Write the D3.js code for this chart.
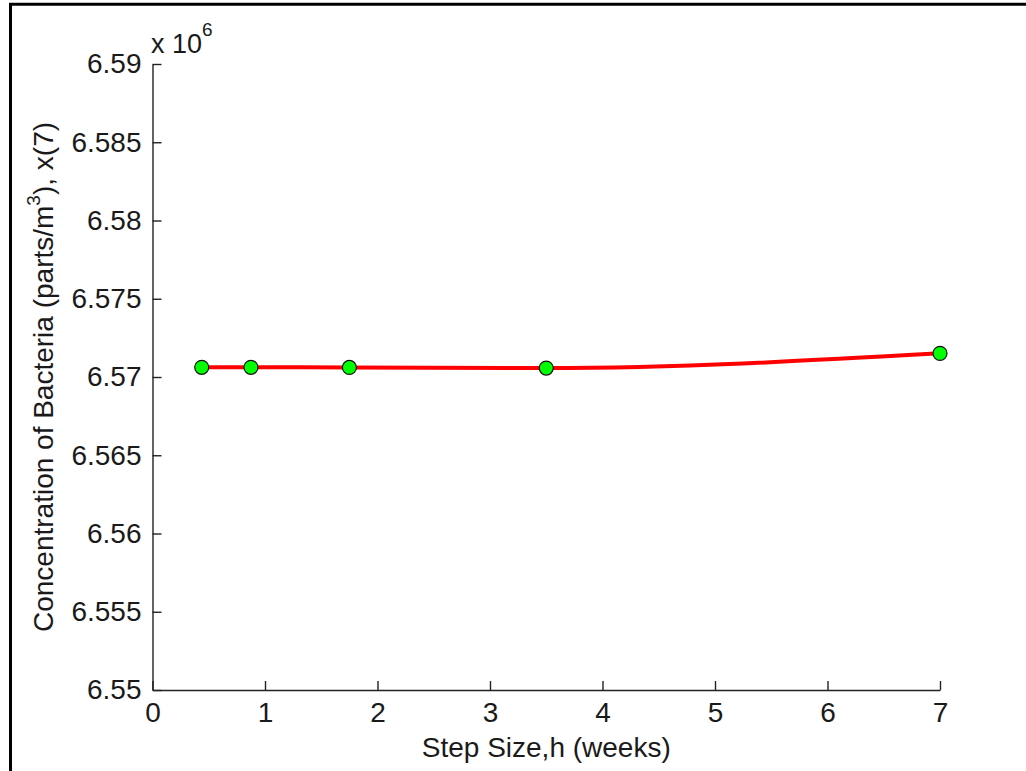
<!DOCTYPE html>
<html>
<head>
<meta charset="utf-8">
<script src="https://cdn.jsdelivr.net/npm/d3@7"></script>
<style>
  html, body { margin: 0; padding: 0; background: #fff; }
  svg { display: block; }
  text { font-family: "Liberation Sans", Arial, Helvetica, sans-serif; fill: #1a1a1a; }
</style>
</head>
<body>
<script>
// Data (y in units of 1e6)
const stepSizes = [0.4375, 0.875, 1.75, 3.5, 7];
const concentration = [6.57062, 6.57062, 6.57061, 6.57057, 6.57151];
const xTicks = [0, 1, 2, 3, 4, 5, 6, 7];
const xTickLabels = ["0", "1", "2", "3", "4", "5", "6", "7"];
const yTicks = [6.55, 6.555, 6.56, 6.565, 6.57, 6.575, 6.58, 6.585, 6.59];
const yTickLabels = ["6.55", "6.555", "6.56", "6.565", "6.57", "6.575", "6.58", "6.585", "6.59"];
const xLabel = "Step Size,h (weeks)";

(function () {
const W = 1026, H = 771;
const svg = d3.select("body").append("svg").attr("width", W).attr("height", H);

// outer frame (top and left edges visible)
svg.append("line").attr("x1", 9).attr("x2", W).attr("y1", 4.3).attr("y2", 4.3)
  .attr("stroke", "#000").attr("stroke-width", 3);
svg.append("line").attr("x1", 10.5).attr("x2", 10.5).attr("y1", 3).attr("y2", H)
  .attr("stroke", "#000").attr("stroke-width", 3);

const mL = 152.5, mR = 940, mT = 64, mB = 690;
const x = d3.scaleLinear().domain([0, 7]).range([mL, mR]);
const y = d3.scaleLinear().domain([6.55, 6.59]).range([mB, mT]);

const xAxis = d3.axisBottom(x).tickValues(xTicks)
  .tickFormat((d, i) => xTickLabels[i]).tickSizeInner(-9).tickSizeOuter(0).tickPadding(12);
const yAxis = d3.axisLeft(y).tickValues(yTicks)
  .tickFormat((d, i) => yTickLabels[i]).tickSizeInner(-9).tickSizeOuter(0).tickPadding(11);

const gx = svg.append("g").attr("transform", `translate(0,${mB})`).call(xAxis);
const gy = svg.append("g").attr("transform", `translate(${mL},0)`).call(yAxis);
[gx, gy].forEach(g => {
  g.selectAll("path.domain").attr("stroke", "#222").attr("stroke-width", 1.4);
  g.selectAll(".tick line").attr("stroke", "#222").attr("stroke-width", 1.4);
  g.selectAll(".tick text").style("font-size", "28px").attr("fill", "#1a1a1a")
    .style("font-family", "'Liberation Sans', Arial, sans-serif");
});

// line
const line = d3.line().x(d => x(d[0])).y(d => y(d[1])).curve(d3.curveMonotoneX);
const pts = stepSizes.map((s, i) => [s, concentration[i]]);
svg.append("path").datum(pts).attr("d", line)
  .attr("fill", "none").attr("stroke", "#ff0000").attr("stroke-width", 4);

svg.selectAll("circle.pt").data(pts).enter().append("circle")
  .attr("class", "pt")
  .attr("cx", d => x(d[0])).attr("cy", d => y(d[1])).attr("r", 7)
  .attr("fill", "#00ff00").attr("stroke", "#111").attr("stroke-width", 1.2);

// multiplier
const mult = svg.append("text").attr("x", 151).attr("y", 53).style("font-size", "27px");
mult.append("tspan").text("x 10");
mult.append("tspan").attr("dy", -17).style("font-size", "19px").text("6");

// x label
svg.append("text").attr("x", (mL + mR) / 2).attr("y", 757)
  .attr("text-anchor", "middle").style("font-size", "28px").text(xLabel);

// y label
const yl = svg.append("text")
  .attr("transform", `translate(53,${(mT + mB) / 2}) rotate(-90)`)
  .attr("text-anchor", "middle").style("font-size", "28px");
yl.append("tspan").text("Concentration of Bacteria (parts/m");
yl.append("tspan").attr("dy", -13).style("font-size", "19px").text("3");
yl.append("tspan").attr("dy", 13).text("), x(7)");
})();
</script>
</body>
</html>
